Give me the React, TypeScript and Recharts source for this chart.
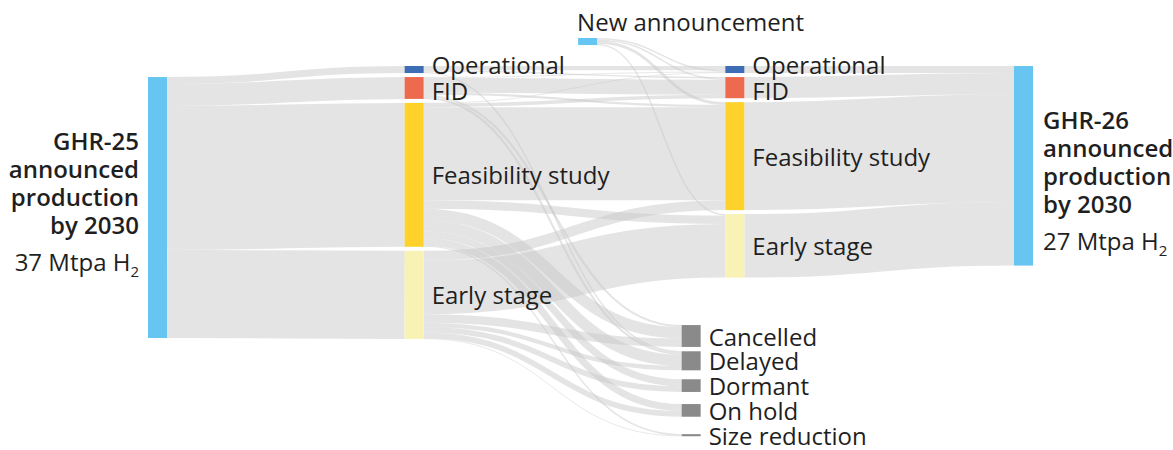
import { Sankey } from "recharts";

const FONT = '"Open Sans", sans-serif';
const INK = "#1f1f1f";

const stages = ["Operational", "FID", "Feasibility study", "Early stage"];
const outcomes = ["Cancelled", "Delayed", "Dormant", "On hold", "Size reduction"];
const ghr25Lines = ["GHR-25", "announced", "production", "by 2030"];
const ghr26Lines = ["GHR-26", "announced", "production", "by 2030"];
const ghr25Total = 37;
const ghr26Total = 27;

// Mtpa H2 by stage in GHR-25
const ghr25ByStage = [1.0, 3.1, 20.4, 12.5];
// GHR-25 stage (rows) -> GHR-26 stage (cols)
const stageMoves = [
  [0.6, 0.2, 0, 0],
  [0.1, 2.1, 0.3, 0],
  [0.1, 0.5, 13.2, 1.2],
  [0, 0, 1.4, 7.6],
];
// GHR-25 stage (rows) -> dropped out (cols)
const stageLosses = [
  [0, 0.2, 0, 0, 0],
  [0.3, 0.3, 0, 0, 0],
  [1.6, 1.6, 1.0, 1.0, 0.2],
  [1.2, 0.6, 0.8, 0.8, 0.1],
];
const newByStage = [0.2, 0.2, 0.4, 0.2];
const ghr26ByStage = [1.0, 3.0, 15.3, 9.0];

const stageColors = ["#3d6db5", "#ee6a4e", "#fed22b", "#f8f3b4"];
const totalColor = "#66c6f1";
const lossColor = "#8a8a8a";

const W = 1173;
const H = 450;
const M = { top: 66, right: 140, bottom: 84, left: 148 };
const INNER_W = W - M.left - M.right;
// hand placed columns / nodes, as in the original layout
const STAGE1_X = 0.29;
const NEW_X = 0.486;
const NEW_RISE = 28;
const LOSS_X = 0.603;
const LOSS_ROW0 = 270;
const LOSS_STEP = 24.8;
const stageLabelShift = [-5, 3, 0, 0];
const FS = 24;

const nodes = [
  { name: "New announcement", kind: "new" },
  { name: "GHR-25", kind: "total", side: "left" },
  ...stages.map((s, i) => ({ name: s, kind: "stage", stage: i, year: 25 })),
  ...stages.map((s, i) => ({ name: s, kind: "stage", stage: i, year: 26 })),
  ...outcomes.map((s, i) => ({ name: s, kind: "loss", row: i })),
  { name: "GHR-26", kind: "total", side: "right" },
];

const links: { source: number; target: number; value: number }[] = [];
ghr25ByStage.forEach((v, i) => links.push({ source: 1, target: 2 + i, value: v }));
stageMoves.forEach((row, i) =>
  row.forEach((v, j) => v > 0 && links.push({ source: 2 + i, target: 6 + j, value: v }))
);
stageLosses.forEach((row, i) =>
  row.forEach((v, j) => v > 0 && links.push({ source: 2 + i, target: 10 + j, value: v }))
);
newByStage.forEach((v, j) => links.push({ source: 0, target: 6 + j, value: v }));
ghr26ByStage.forEach((v, i) => links.push({ source: 6 + i, target: 15, value: v }));

function place(n: any, x: number, y: number, h: number) {
  if (n.kind === "new") return { x: M.left + INNER_W * NEW_X, y: M.top - NEW_RISE };
  if (n.kind === "loss")
    return { x: M.left + INNER_W * LOSS_X, y: M.top + LOSS_ROW0 + n.row * LOSS_STEP - h / 2 };
  if (n.kind === "stage" && n.year === 25) return { x: M.left + INNER_W * STAGE1_X, y };
  return { x, y };
}

const FlowNode = (props: any) => {
  const { width, height, payload } = props;
  const p = place(payload, props.x, props.y, height);
  const x = p.x;
  const y = p.y;
  let fill = lossColor;
  if (payload.kind === "stage") fill = stageColors[payload.stage];
  if (payload.kind === "total" || payload.kind === "new") fill = totalColor;

  let label = null;
  if (payload.kind === "stage" || payload.kind === "loss") {
    const shift = payload.kind === "stage" ? stageLabelShift[payload.stage] : 0;
    label = (
      <text x={x + width + 8} y={y + height / 2 + shift} dominantBaseline="central" fontFamily={FONT} fontSize={FS} fill={INK}>
        {payload.name}
      </text>
    );
  } else if (payload.kind === "new") {
    label = (
      <text x={x - 1} y={y - 7} fontFamily={FONT} fontSize={FS} fill={INK}>
        {payload.name}
      </text>
    );
  } else {
    const left = payload.side === "left";
    const lines = left ? ghr25Lines : ghr26Lines;
    const c = y + height / 2 + (left ? -2 : 19);
    const tx = left ? x - 9 : x + width + 10;
    const anchor = left ? "end" : "start";
    label = (
      <g>
        {lines.map((l, i) => (
          <text key={l} x={tx} y={c - 56 + i * 28} textAnchor={anchor} fontFamily={FONT} fontSize={FS} fontWeight={600} fill={INK}>
            {l}
          </text>
        ))}
        <text x={tx} y={c + 65} textAnchor={anchor} fontFamily={FONT} fontSize={FS} fill={INK}>
          {`${left ? ghr25Total : ghr26Total} Mtpa H`}
          <tspan fontSize={15} dy={6}>2</tspan>
        </text>
      </g>
    );
  }

  return (
    <g>
      <rect x={x} y={y} width={width} height={Math.max(height, 1.5)} fill={fill} />
      {label}
    </g>
  );
};

const FlowLink = (props: any) => {
  const { sourceX, targetX, sourceY, targetY, linkWidth, payload } = props;
  const s = payload.source;
  const t = payload.target;
  const ps = place(s, M.left + s.x, M.top + s.y, s.dy);
  const pt = place(t, M.left + t.x, M.top + t.y, t.dy);
  const sx = sourceX + ps.x - (M.left + s.x);
  const sy = sourceY + ps.y - (M.top + s.y);
  const tx = targetX + pt.x - (M.left + t.x);
  const ty = targetY + pt.y - (M.top + t.y);
  const mid = (tx - sx) * 0.5;
  return (
    <path
      d={`M${sx},${sy} C${sx + mid},${sy} ${tx - mid},${ty} ${tx},${ty}`}
      fill="none"
      stroke="#c6c6c6"
      strokeOpacity={0.48}
      strokeWidth={Math.max(linkWidth, 0.8)}
    />
  );
};

export default function App() {
  return (
    <div style={{ width: W, height: H, background: "#fff" }}>
      <style>{`body{margin:0}`}</style>
      <Sankey
        width={W}
        height={H}
        data={{ nodes, links }}
        node={(p: any) => <FlowNode {...p} />}
        link={(p: any) => <FlowLink {...p} />}
        nodeWidth={19}
        nodePadding={4}
        iterations={0}
        sort={false}
        align="left"
        margin={M}
      />
    </div>
  );
}
